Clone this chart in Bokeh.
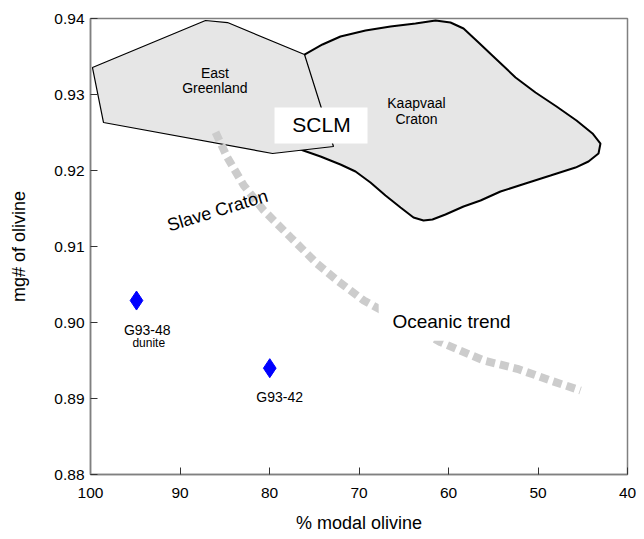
from bokeh.plotting import figure
from bokeh.models import Range1d, FixedTicker, PrintfTickFormatter
from bokeh.core.properties import value
from bokeh.embed import file_html
from bokeh.resources import INLINE

FONT = "Liberation Sans"

# East Greenland field (modal olivine %, mg#)
eg_x = [99.78, 87.15, 84.69, 76.09, 72.85, 79.66, 98.55]
eg_y = [0.93355, 0.93974, 0.93947, 0.93526, 0.92316, 0.92224, 0.92632]

# Kaapvaal Craton field
kv_x = [76.09, 74.08, 72.07, 69.27, 66.48, 63.69, 61.45, 59.78, 58.32, 56.76,
        54.75, 52.51, 50.28, 47.93, 45.70, 43.91, 43.02, 43.24, 44.36, 45.81,
        48.60, 51.40, 54.19, 56.42, 58.32, 60.34, 61.79, 62.79, 63.91, 65.36,
        67.04, 68.72, 70.39, 72.07, 74.30, 76.54, 78.21]
kv_y = [0.93526, 0.93658, 0.93763, 0.93842, 0.93895, 0.93934, 0.93974, 0.93947, 0.93868, 0.93697,
        0.93474, 0.93224, 0.93026, 0.92842, 0.92658, 0.92487, 0.92355, 0.92224, 0.92118, 0.92039,
        0.91934, 0.91829, 0.91724, 0.91605, 0.91526, 0.91421, 0.91355, 0.91342, 0.91382, 0.91513,
        0.91671, 0.91842, 0.91987, 0.92079, 0.92184, 0.92276, 0.92342]

# Oceanic trend
tr_x = [86.03, 84.73, 82.87, 80.64, 77.65, 74.67, 72.44, 69.46, 65.36, 60.89, 56.06, 52.32, 48.60, 45.25]
tr_y = [0.92504, 0.92175, 0.91803, 0.91474, 0.91122, 0.90772, 0.90553, 0.90289, 0.90026, 0.89741,
        0.89500, 0.89391, 0.89237, 0.89105]

# Samples
samp_x = [94.86, 79.97]
samp_y = [0.90289, 0.89399]
samp_names = ["G93-48", "G93-42"]

x_ticks = [100, 90, 80, 70, 60, 50, 40]
y_ticks = [0.88, 0.89, 0.90, 0.91, 0.92, 0.93, 0.94]

p = figure(frame_width=537, frame_height=456,
           x_range=Range1d(100, 40), y_range=Range1d(0.88, 0.94),
           output_backend="svg", toolbar_location=None,
           min_border_left=90, min_border_right=9, min_border_top=18, min_border_bottom=60)
p.background_fill_color = "white"
p.border_fill_color = "white"
p.grid.visible = False
p.outline_line_color = "#808080"
p.outline_line_width = 1.5

for ax in (p.xaxis[0], p.yaxis[0]):
    ax.axis_line_color = "#808080"
    ax.axis_line_width = 1.5
    ax.major_tick_in = 7
    ax.major_tick_out = 0
    ax.major_tick_line_color = "#333333"
    ax.minor_tick_line_color = None
    ax.major_label_text_font = FONT
    ax.major_label_text_font_size = "15.5px"
    ax.major_label_text_color = "black"
    ax.axis_label_text_font = FONT
    ax.axis_label_text_font_size = "18px"
    ax.axis_label_text_font_style = "normal"
    ax.axis_label_text_color = "black"

p.xaxis.ticker = FixedTicker(ticks=x_ticks)
p.yaxis.ticker = FixedTicker(ticks=y_ticks)
p.yaxis.formatter = PrintfTickFormatter(format="%.2f")
p.xaxis.axis_label = "% modal olivine"
p.yaxis.axis_label = "mg# of olivine"
p.xaxis.major_label_standoff = 13
p.xaxis.axis_label_standoff = 12
p.yaxis.major_label_standoff = 6
p.yaxis.axis_label_standoff = 22

# fields
p.patch(kv_x, kv_y, fill_color="#e6e6e6", line_color="black", line_width=2)
p.patch(eg_x, eg_y, fill_color="#e6e6e6", line_color="black", line_width=1.2)

# trend
p.line(tr_x, tr_y, line_color="#cccccc", line_width=8, line_dash="9 5", line_cap="butt")

# white boxes behind labels
p.quad(left=[79.44], right=[69.05], top=[0.92829], bottom=[0.92355], fill_color="white", line_color=None)
p.quad(left=[67.8], right=[51.4], top=[0.9025], bottom=[0.8976], fill_color="white", line_color=None)

def txt(x, y, t, size, angle=0):
    p.text([x], [y], text=[t], text_font=value(FONT), text_font_size=size,
           text_align="center", text_baseline="middle", text_color="black", angle=angle)

txt(86.1, 0.93289, "East", "14px")
txt(86.1, 0.93092, "Greenland", "14px")
txt(63.58, 0.92882, "Kaapvaal", "14px")
txt(63.58, 0.92684, "Craton", "14px")
txt(74.19, 0.92605, "SCLM", "21px")
txt(59.66, 0.90013, "Oceanic trend", "19px")
txt(85.81, 0.91474, "Slave Craton", "18px", angle=0.297)
txt(93.66, 0.89895, samp_names[0], "14px")
txt(93.49, 0.89728, "dunite", "12px")
txt(78.86, 0.89026, samp_names[1], "14px")

p.scatter(samp_x, samp_y, marker="diamond", size=19, fill_color="#0000ff", line_color="#0000ff")

open("out.html", "w").write(file_html(p, INLINE))
